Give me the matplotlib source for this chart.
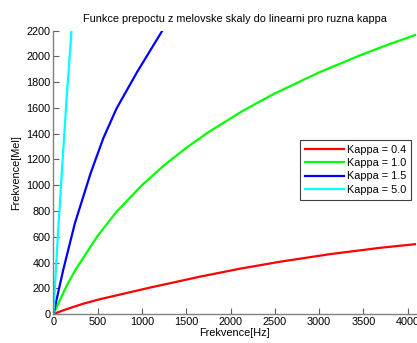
#!/usr/bin/env python3
"""Mel-scale conversion curves for several kappa values."""
import matplotlib
matplotlib.use("Agg")
import matplotlib.pyplot as plt

plt.rcParams["font.family"] = ["Liberation Sans", "DejaVu Sans"]
plt.rcParams["font.size"] = 7.8

# values
freq_k04 = [0, 150, 337, 525, 714, 1090, 1655, 2107, 2559, 3124, 3689, 4096]
mel_k04 = [0, 38, 80, 115, 145, 205, 290, 352, 406, 465, 514, 543]

freq_k10 = [0, 150, 250, 500, 714, 1000, 1250, 1500, 1750, 2144, 2500, 3000, 3463, 3800, 4096]
mel_k10 = [0, 219, 344, 607, 795, 1000, 1155, 1290, 1412, 1580, 1713, 1876, 2009, 2097, 2169]

freq_k15 = [0, 111, 243, 420, 563, 714, 947, 1230]
mel_k15 = [0, 342, 705, 1092, 1364, 1597, 1881, 2200]

freq_k50 = [0, 50, 100, 150, 205]
mel_k50 = [0, 600, 1150, 1680, 2200]

labels = ["Kappa = 0.4", "Kappa = 1.0", "Kappa = 1.5", "Kappa = 5.0"]
colors = ["#ff0000", "#00ff00", "#0000ff", "#00ffff"]

fig = plt.figure(figsize=(4.17, 3.43), dpi=100)
ax = fig.add_axes([0.128, 0.0845, 0.87, 0.826])

series = [(freq_k04, mel_k04), (freq_k10, mel_k10), (freq_k15, mel_k15), (freq_k50, mel_k50)]
for (f, m), lab, col in zip(series, labels, colors):
    ax.plot(f, m, color=col, lw=1.6, label=lab)

ax.set_xlim(0, 4096)
ax.set_ylim(0, 2200)
ax.set_xticks(range(0, 4001, 500))
ax.set_yticks(range(0, 2201, 200))
ax.tick_params(direction="in", length=4, width=0.8, colors="#606060", labelcolor="black", pad=2)
for side in ("top", "right"):
    ax.spines[side].set_visible(False)
for side in ("left", "bottom"):
    ax.spines[side].set_color("#808080")
    ax.spines[side].set_linewidth(1.0)

ax.set_title("Funkce prepoctu z melovske skaly do linearni pro ruzna kappa", fontsize=7.8, pad=6)
ax.set_xlabel("Frekvence[Hz]", labelpad=1)
ax.set_ylabel("Frekvence[Mel]", labelpad=4)

leg = ax.legend(loc="upper right", bbox_to_anchor=(0.986, 0.614), borderaxespad=0,
                fancybox=False, edgecolor="#404040", framealpha=1, handlelength=3.6,
                handletextpad=0.3, borderpad=0.45, labelspacing=0.3, fontsize=7.8)
leg.get_frame().set_linewidth(0.8)

fig.savefig("out.png", dpi=100, facecolor="white")
